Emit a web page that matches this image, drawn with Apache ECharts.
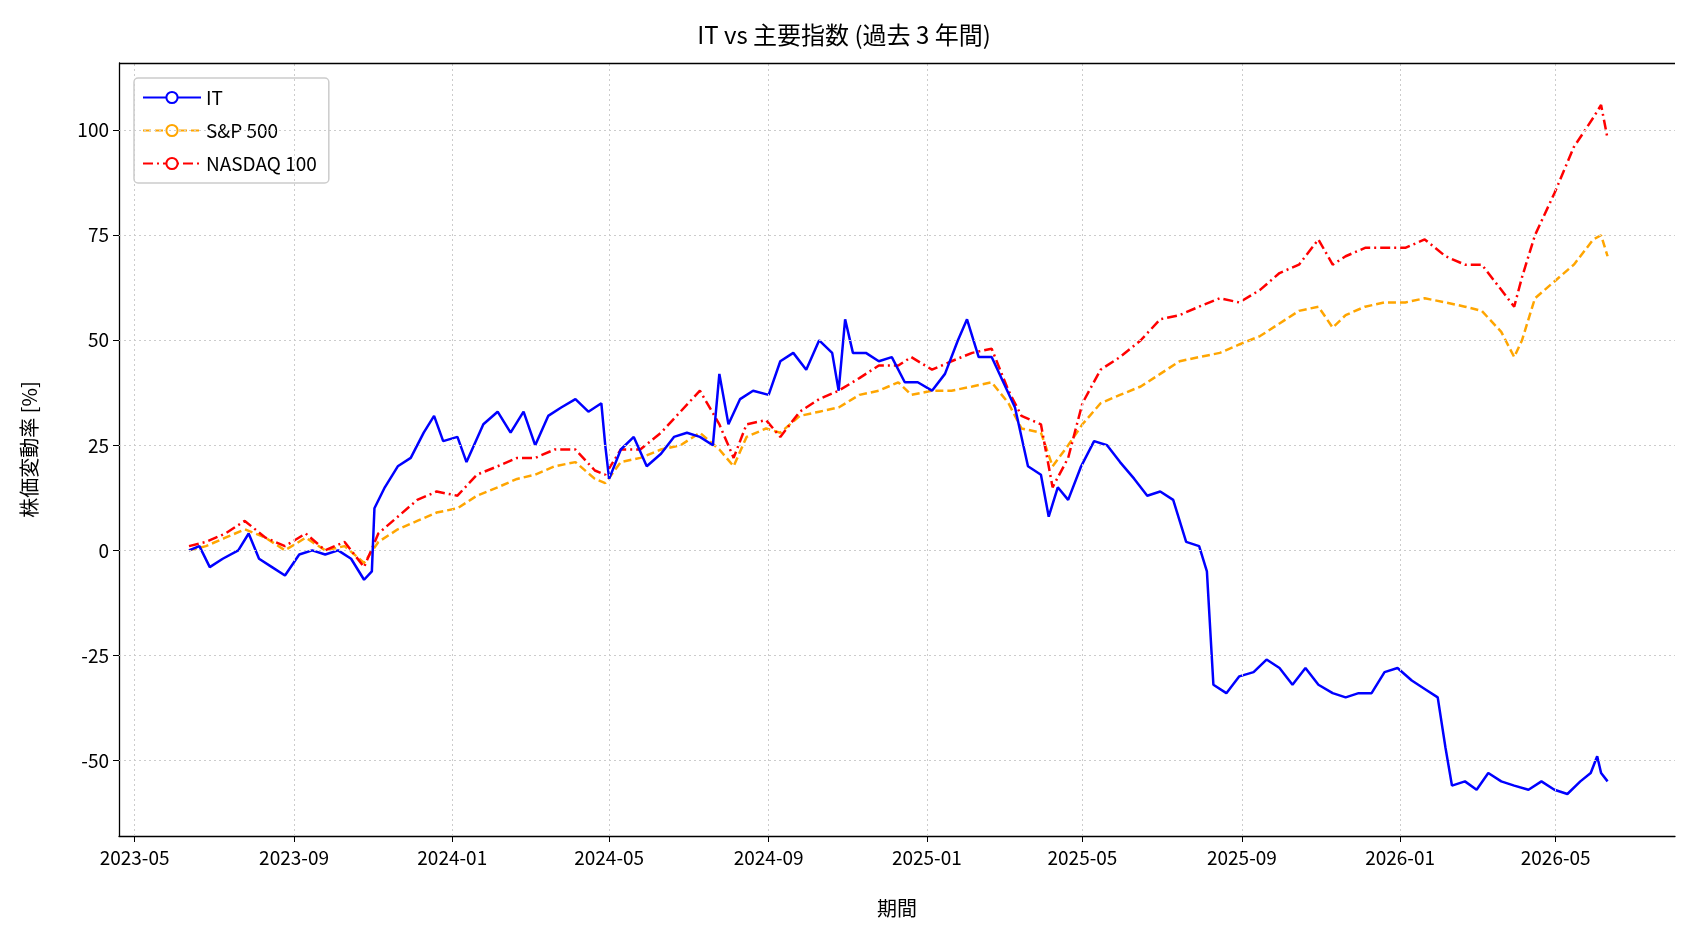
<!DOCTYPE html><html><head><meta charset="utf-8">
<script src="https://cdn.jsdelivr.net/npm/echarts@6/dist/echarts.min.js"></script>
<style>html,body{margin:0;padding:0;background:#fff}#c{width:1688px;height:932px}</style></head><body><div id="c"></div><script>
const itDates=['2023-06-12','2023-06-20','2023-06-28','2023-07-08','2023-07-20','2023-07-28','2023-08-05','2023-08-15','2023-08-25','2023-09-05','2023-09-15','2023-09-25','2023-10-05','2023-10-15','2023-10-25','2023-10-31','2023-11-02','2023-11-10','2023-11-20','2023-11-30','2023-12-10','2023-12-18','2023-12-25','2024-01-05','2024-01-12','2024-01-25','2024-02-05','2024-02-15','2024-02-25','2024-03-05','2024-03-15','2024-03-25','2024-04-05','2024-04-15','2024-04-25','2024-04-28','2024-05-01','2024-05-10','2024-05-20','2024-05-30','2024-06-10','2024-06-20','2024-06-30','2024-07-10','2024-07-20','2024-07-25','2024-08-01','2024-08-10','2024-08-20','2024-09-01','2024-09-10','2024-09-20','2024-09-30','2024-10-10','2024-10-20','2024-10-25','2024-10-30','2024-11-05','2024-11-15','2024-11-25','2024-12-05','2024-12-15','2024-12-25','2025-01-05','2025-01-15','2025-01-25','2025-02-01','2025-02-10','2025-02-20','2025-03-01','2025-03-10','2025-03-20','2025-03-30','2025-04-05','2025-04-12','2025-04-20','2025-04-30','2025-05-10','2025-05-20','2025-05-30','2025-06-10','2025-06-20','2025-06-30','2025-07-10','2025-07-20','2025-07-30','2025-08-05','2025-08-10','2025-08-20','2025-08-30','2025-09-10','2025-09-20','2025-09-30','2025-10-10','2025-10-20','2025-10-30','2025-11-10','2025-11-20','2025-11-30','2025-12-10','2025-12-20','2025-12-30','2026-01-10','2026-01-20','2026-01-30','2026-02-05','2026-02-10','2026-02-20','2026-03-01','2026-03-10','2026-03-20','2026-03-30','2026-04-10','2026-04-20','2026-04-30','2026-05-10','2026-05-20','2026-05-28','2026-06-02','2026-06-05','2026-06-10'];
const itValues=[0,1,-4,-2,0,4,-2,-4,-6,-1,0,-1,0,-2,-7,-5,10,15,20,22,28,32,26,27,21,30,33,28,33,25,32,34,36,33,35,25,17,24,27,20,23,27,28,27,25,42,30,36,38,37,45,47,43,50,47,38,55,47,47,45,46,40,40,38,42,50,55,46,46,40,34,20,18,8,15,12,20,26,25,21,17,13,14,12,2,1,-5,-32,-34,-30,-29,-26,-28,-32,-28,-32,-34,-35,-34,-34,-29,-28,-31,-33,-35,-47,-56,-55,-57,-53,-55,-56,-57,-55,-57,-58,-55,-53,-49,-53,-55];
const idxDates=['2023-06-12','2023-06-25','2023-07-10','2023-07-25','2023-08-10','2023-08-25','2023-09-10','2023-09-25','2023-10-10','2023-10-25','2023-11-05','2023-11-20','2023-12-05','2023-12-20','2024-01-05','2024-01-20','2024-02-05','2024-02-20','2024-03-05','2024-03-20','2024-04-05','2024-04-20','2024-04-28','2024-05-10','2024-05-25','2024-06-10','2024-06-25','2024-07-10','2024-07-25','2024-08-05','2024-08-15','2024-08-30','2024-09-10','2024-09-25','2024-10-10','2024-10-25','2024-11-10','2024-11-25','2024-12-10','2024-12-20','2025-01-05','2025-01-20','2025-02-05','2025-02-20','2025-03-05','2025-03-15','2025-03-30','2025-04-08','2025-04-20','2025-05-01','2025-05-15','2025-05-30','2025-06-15','2025-06-30','2025-07-15','2025-07-30','2025-08-15','2025-08-30','2025-09-15','2025-09-30','2025-10-15','2025-10-30','2025-11-10','2025-11-20','2025-12-05','2025-12-20','2026-01-05','2026-01-20','2026-02-05','2026-02-20','2026-03-05','2026-03-20','2026-03-30','2026-04-05','2026-04-15','2026-04-30','2026-05-15','2026-05-30','2026-06-05','2026-06-10'];
const spValues=[0,1,3,5,3,0,3,0,1,-3,2,5,7,9,10,13,15,17,18,20,21,17,16,21,22,24,25,28,24,20,27,29,28,32,33,34,37,38,40,37,38,38,39,40,35,29,28,20,25,30,35,37,39,42,45,46,47,49,51,54,57,58,53,56,58,59,59,60,59,58,57,52,46,50,60,64,68,74,75,70];
const ndValues=[1,2,4,7,3,1,4,0,2,-4,4,8,12,14,13,18,20,22,22,24,24,19,18,24,24,28,33,38,30,22,30,31,27,33,36,38,41,44,44,46,43,45,47,48,38,32,30,15,22,35,43,46,50,55,56,58,60,59,62,66,68,74,68,70,72,72,72,74,70,68,68,62,58,65,75,85,96,103,106,98];
const xTicks=['2023-05-01','2023-09-01','2024-01-01','2024-05-01','2024-09-01','2025-01-01','2025-05-01','2025-09-01','2026-01-01','2026-05-01'];
const yTicks=[-50,-25,0,25,50,75,100];
const ff='"Noto Sans CJK JP", sans-serif';
const ts=s=>new Date(s+'T00:00:00Z').getTime();
const pair=(d,v)=>d.map((x,i)=>[ts(x),v[i]]);
const xt=xTicks.map(ts);
const fmt=v=>{const d=new Date(v);return d.getUTCFullYear()+'-'+String(d.getUTCMonth()+1).padStart(2,'0');};
const ch=echarts.init(document.getElementById('c'));
ch.setOption({
 animation:false,
 title:{text:'IT vs 主要指数 (過去 3 年間)',left:'center',top:18,textStyle:{fontFamily:ff,fontSize:24,fontWeight:'normal',color:'#000'}},
 grid:{left:119,right:13,top:63,bottom:96},
 legend:{left:134,top:78,orient:'vertical',itemWidth:58,itemHeight:14,itemGap:14,padding:[10,12,10,8],borderColor:'#ccc',borderWidth:1.5,borderRadius:4,backgroundColor:'rgba(255,255,255,0.8)',textStyle:{fontFamily:ff,fontSize:19,color:'#000'},data:['IT','S&P 500','NASDAQ 100']},
 xAxis:{type:'value',min:ts('2023-04-19'),max:ts('2026-08-01'),name:'期間',nameLocation:'middle',nameGap:62,nameTextStyle:{fontFamily:ff,fontSize:20,color:'#000'},
  axisLine:{onZero:false,lineStyle:{color:'#000',width:1.3}},
  axisTick:{customValues:xt,length:6,lineStyle:{color:'#000'}},
  axisLabel:{customValues:xt,formatter:fmt,fontFamily:ff,fontSize:19,color:'#000',margin:12},
  splitLine:{show:false}},
 yAxis:{type:'value',min:-68,max:116,name:'株価変動率 [%]',nameLocation:'middle',nameGap:80,nameTextStyle:{fontFamily:ff,fontSize:20,color:'#000'},
  axisLine:{show:true,lineStyle:{color:'#000',width:1.3}},
  axisTick:{show:true,customValues:yTicks,length:6,lineStyle:{color:'#000'}},
  axisLabel:{customValues:yTicks,fontFamily:ff,fontSize:19,color:'#000',margin:10},
  splitLine:{show:false}},
 series:[
  {name:'IT',type:'line',data:pair(itDates,itValues),showSymbol:false,lineStyle:{color:'#0000ff',width:2.5},itemStyle:{color:'#0000ff'},z:3,
   markLine:{silent:true,symbol:'none',label:{show:false},lineStyle:{color:'#ccc',type:[2,3],width:1},data:xt.map(v=>({xAxis:v})).concat(yTicks.map(v=>({yAxis:v})))}},
  {name:'S&P 500',type:'line',data:pair(idxDates,spValues),showSymbol:false,lineStyle:{color:'#ffa500',width:2.5,type:[8,4]},itemStyle:{color:'#ffa500'},z:2},
  {name:'NASDAQ 100',type:'line',data:pair(idxDates,ndValues),showSymbol:false,lineStyle:{color:'#ff0000',width:2.5,type:[10,4,2,4]},itemStyle:{color:'#ff0000'},z:2},
  {type:'line',data:[],markLine:{silent:true,symbol:'none',label:{show:false},lineStyle:{color:'#000',type:'solid',width:1.3},data:[{yAxis:116}]}}
 ]});
</script></body></html>
